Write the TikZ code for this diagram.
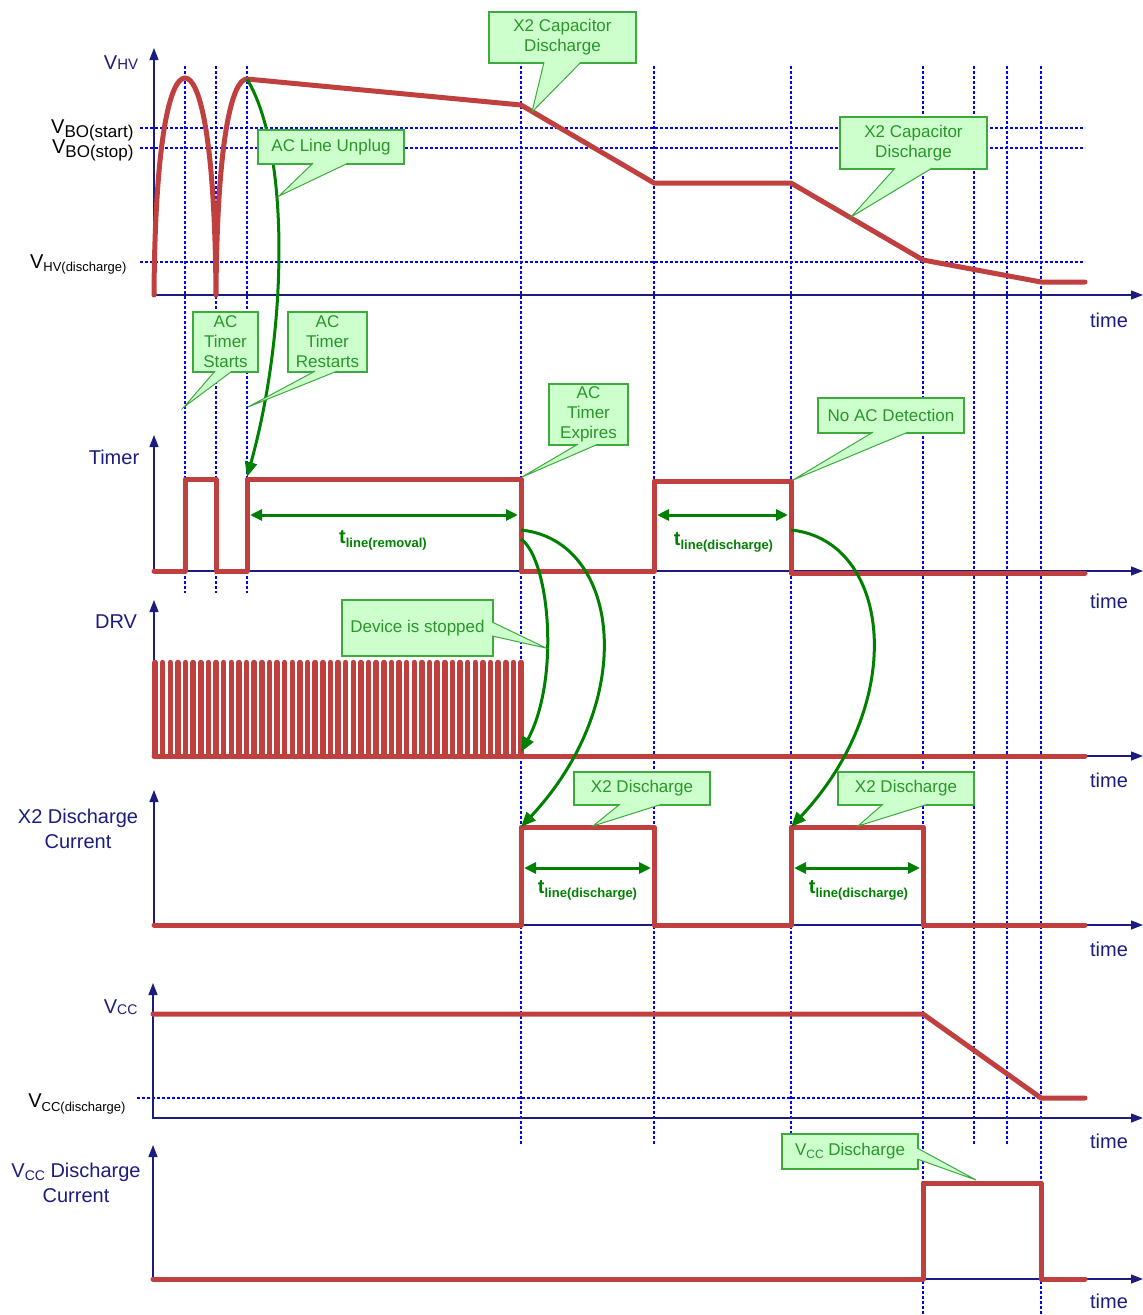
\documentclass[tikz,border=0pt]{standalone}
\usepackage{fontspec}
\setmainfont{Liberation Sans}
\usetikzlibrary{arrows.meta,positioning}

\definecolor{wavered}{RGB}{192,64,64}
\definecolor{gridblue}{RGB}{0,0,255}
\definecolor{axisblue}{RGB}{28,28,128}
\definecolor{callfill}{RGB}{204,255,204}
\definecolor{callline}{RGB}{60,170,60}
\definecolor{calltext}{RGB}{40,150,40}
\definecolor{flowgreen}{RGB}{0,128,0}

% lowered, smaller text: [drop]{size}{text}
\newcommand{\sublbl}[3][3]{\raisebox{-#1pt}{\fontsize{#2}{#2}\selectfont #3}}
% pointer of a callout: base point, base point, tip
\newcommand{\pointer}[3]{%
  \fill[callfill] (#1) -- (#3) -- (#2) -- cycle;
  \draw[callline, line width=1pt] (#1) -- (#3) -- (#2);}

\begin{document}
\begin{tikzpicture}[
    x=1pt, y=-1pt,
    wave/.style={draw=wavered, line width=5pt, line cap=round, line join=round},
    axisline/.style={draw=axisblue, line width=1.3pt,
        {Triangle[length=12pt,width=9pt]}-{Triangle[length=12pt,width=9pt]}},
    guide/.style={draw=gridblue, line width=2pt, dash pattern=on 3pt off 2pt},
    lbl/.style={text=axisblue, font=\fontsize{20}{25}\selectfont, align=center},
    lvl/.style={text=black, font=\fontsize{20}{23}\selectfont, anchor=base east},
    note/.style={draw=callline, fill=callfill, line width=1.3pt, text=calltext,
        font=\fontsize{17}{20}\selectfont, align=center, inner sep=0pt},
    span/.style={draw=flowgreen, line width=3pt,
        {Triangle[length=12pt,width=11pt]}-{Triangle[length=12pt,width=11pt]}},
    flow/.style={draw=flowgreen, line width=3pt, -{Triangle[length=15pt,width=12pt]}},
    tlbl/.style={text=flowgreen, font=\bfseries\fontsize{20}{23}\selectfont, anchor=base}
]
\useasboundingbox (0,0) rectangle (1143,1315);

% dotted guides
\foreach \x in {185,216,247} \draw[guide] (\x,66) -- (\x,593);
\foreach \x in {521,654,791,974,1007} \draw[guide] (\x,66) -- (\x,1145);
\foreach \x in {923,1041} \draw[guide] (\x,66) -- (\x,1315);
\foreach \y in {128,148,262} \draw[guide] (140,\y) -- (1085,\y);
\draw[guide] (137,1098) -- (1085,1098);

% axes
\draw[axisline] (154,48) -- (154,295) -- (1143,295);
\draw[axisline] (154,435) -- (154,571) -- (1143,571);
\draw[axisline] (154,600) -- (154,756) -- (1143,756);
\draw[axisline] (154,790) -- (154,925) -- (1143,925);
\draw[axisline] (153,983) -- (153,1118) -- (1143,1118);
\draw[axisline] (153,1145) -- (153,1279) -- (1143,1279);

% waveforms
\draw[wave] (154,295) .. controls (155,140) and (170,78) .. (185,78)
    .. controls (200,78) and (215,140) .. (216,295)
    .. controls (217,140) and (232,79) .. (247,79)
    -- (521,105) -- (654,183) -- (791,183) -- (923,260) -- (1041,282) -- (1085,282);
\draw[wave] (154,571) -- (185,571) -- (185,479) -- (216,479) -- (216,571) -- (247,571)
    -- (247,479) -- (521,479) -- (521,571) -- (654,571) -- (654,481) -- (791,481)
    -- (791,573) -- (1085,573);
\draw[wave] (154,756) -- (1085,756);
\foreach \i in {0,...,48}
    \draw[wave, line width=5.5pt] ({155+7.625*\i},756) -- ({155+7.625*\i},662.5);
\draw[wave] (154,925) -- (521,925) -- (521,827) -- (654,827) -- (654,925) -- (791,925)
    -- (791,827) -- (923,827) -- (923,925) -- (1085,925);
\draw[wave] (153,1014) -- (923,1014) -- (1041,1098) -- (1085,1098);
\draw[wave] (153,1279) -- (923,1279) -- (923,1183) -- (1041,1183) -- (1041,1279) -- (1085,1279);

% points on the waveforms
\coordinate (peak) at (247,79);
\coordinate (restart) at (247,477);
\coordinate (expA) at (521,530);
\coordinate (expB) at (521,539);
\coordinate (drvoff) at (521,752);
\coordinate (x2on) at (521,827);
\coordinate (noacA) at (791,530);
\coordinate (x2on2) at (791,827);
\coordinate (remL) at (250,515);
\coordinate (remR) at (518,515);
\coordinate (disL) at (657,515);
\coordinate (disR) at (788,515);
\coordinate (x2L) at (524,868);
\coordinate (x2R) at (651,868);
\coordinate (x2L2) at (794,868);
\coordinate (x2R2) at (920,868);

% green arrows
\draw[flow] (peak) .. controls (290,150) and (288,330) .. (restart);
\draw[flow] (expB) .. controls (550,560) and (560,680) .. (drvoff);
\draw[flow] (expA) .. controls (620,540) and (640,700) .. (x2on);
\draw[flow] (noacA) .. controls (890,540) and (910,700) .. (x2on2);
\draw[span] (remL) -- (remR);
\draw[span] (disL) -- (disR);
\draw[span] (x2L) -- (x2R);
\draw[span] (x2L2) -- (x2R2);
\node[tlbl] (trem) at (383,543) {t\sublbl[4]{13}{line(removal)}};
\node[tlbl] (tdis) at (723.5,545) {t\sublbl[4]{13}{line(discharge)}};
\node[tlbl] (tx2a) at (587.5,893) {t\sublbl[4]{13}{line(discharge)}};
\node[tlbl] (tx2b) at (858.5,893) {t\sublbl[4]{13}{line(discharge)}};

% axis labels
\node[lbl, anchor=base] (vhv) at (121,69) {V\sublbl[0]{15}{HV}};
\node[lvl] (vbostart) at (137,133) {V\sublbl[4]{17}{BO(start)}};
\node[lvl] (vbostop) at (137,153) {V\sublbl[4]{17}{BO(stop)}};
\node[lvl] (vhvdis) at (130,268) {V\sublbl[3]{13}{HV(discharge)}};
\node[lbl, anchor=base] (timer) at (114,464) {Timer};
\node[lbl, anchor=base] (drv) at (116,628) {DRV};
\node[lbl, anchor=base] (x2cur) at (78,848) {X2 Discharge\\Current};
\node[lbl, anchor=base east] (vcc) at (141,1013) {V\sublbl[1]{14}{CC}};
\node[lvl] (vccdis) at (129,1107) {V\sublbl[4]{13}{CC(discharge)}};
\node[lbl, anchor=base] (vcccur) at (76,1202) {V\sublbl[3]{14}{CC} Discharge\\Current};
\foreach \y/\n in {327/1,608/2,787/3,956/4,1148/5,1308/6}
    \node[lbl, anchor=base] (time\n) at (1109,\y) {time};

% callouts
\coordinate (capA) at (532,112);
\coordinate (unplugA) at (279,196);
\coordinate (capB) at (851,217);
\coordinate (startA) at (184,407);
\coordinate (restartA) at (248,407);
\coordinate (expireA) at (522,477);
\coordinate (noacB) at (793,480);
\coordinate (stopA) at (546,648);
\coordinate (x2A) at (593,826);
\coordinate (x2B) at (858,826);
\coordinate (vccA) at (976,1180);

\node[note, minimum width=147pt, minimum height=51pt] (cap1) at (562.5,37.5) {X2 Capacitor\\Discharge};
\pointer{[xshift=-18.5pt,yshift=1.5pt]cap1.south}{[xshift=18.5pt,yshift=1.5pt]cap1.south}{capA}
\node[note, minimum width=146pt, minimum height=34pt] (unplug) at (331,147) {AC Line Unplug};
\pointer{[xshift=-18pt,yshift=1.5pt]unplug.south}{[xshift=17pt,yshift=1.5pt]unplug.south}{unplugA}
\node[note, minimum width=147pt, minimum height=52pt] (cap2) at (913.5,143) {X2 Capacitor\\Discharge};
\pointer{[xshift=-18.5pt,yshift=1.5pt]cap2.south}{[xshift=18.5pt,yshift=1.5pt]cap2.south}{capB}
\node[note, minimum width=65pt, minimum height=60pt] (starts) at (225.5,342) {AC\\Timer\\Starts};
\pointer{[xshift=-10.5pt,yshift=1.5pt]starts.south}{[xshift=6.5pt,yshift=1.5pt]starts.south}{startA}
\node[note, minimum width=79pt, minimum height=60pt] (restarts) at (327.5,342) {AC\\Timer\\Restarts};
\pointer{[xshift=-12.5pt,yshift=1.5pt]restarts.south}{[xshift=9.5pt,yshift=1.5pt]restarts.south}{restartA}
\node[note, minimum width=79pt, minimum height=61pt] (expires) at (588.5,414.5) {AC\\Timer\\Expires};
\pointer{[xshift=-10.5pt,yshift=1.5pt]expires.south}{[xshift=9.5pt,yshift=1.5pt]expires.south}{expireA}
\node[note, minimum width=146pt, minimum height=35pt] (noac) at (891,415.5) {No AC Detection};
\pointer{[xshift=-18pt,yshift=1.5pt]noac.south}{[xshift=17pt,yshift=1.5pt]noac.south}{noacB}
\node[note, minimum width=151pt, minimum height=56pt] (stopped) at (417.5,628) {Device is stopped};
\pointer{[xshift=-1.5pt,yshift=6pt]stopped.east}{[xshift=-1.5pt,yshift=-8pt]stopped.east}{stopA}
\node[note, minimum width=136pt, minimum height=33pt] (x2a) at (642,788.5) {X2 Discharge};
\pointer{[xshift=-22pt,yshift=1.5pt]x2a.south}{[xshift=20pt,yshift=1.5pt]x2a.south}{x2A}
\node[note, minimum width=136pt, minimum height=33pt] (x2b) at (906,788.5) {X2 Discharge};
\pointer{[xshift=-23pt,yshift=1.5pt]x2b.south}{[xshift=22pt,yshift=1.5pt]x2b.south}{x2B}
\node[note, minimum width=136pt, minimum height=35pt] (vccdisbox) at (850,1151.5) {V\sublbl[3]{12}{CC} Discharge};
\pointer{[xshift=-1.5pt,yshift=3.5pt]vccdisbox.east}{[xshift=-1.5pt,yshift=-7.5pt]vccdisbox.east}{vccA}
\end{tikzpicture}
\end{document}
